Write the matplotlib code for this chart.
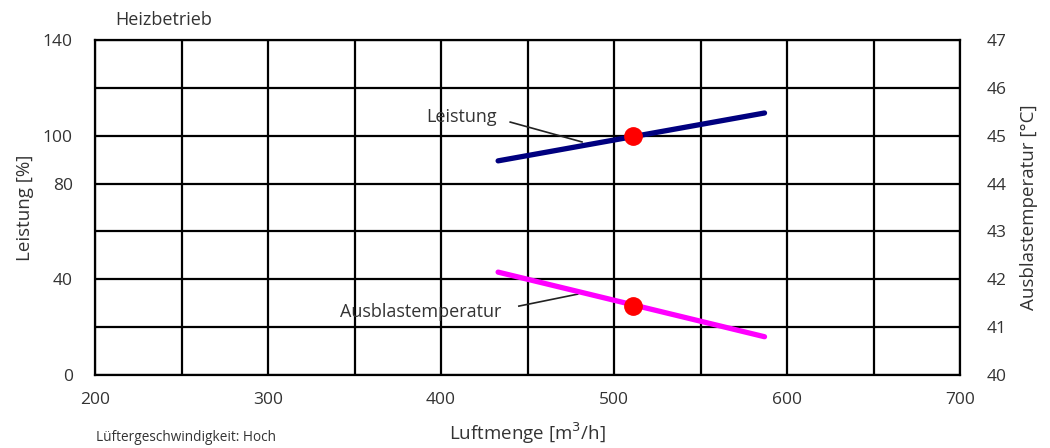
import matplotlib
matplotlib.use("Agg")
import matplotlib.pyplot as plt

plt.rcParams['font.family'] = ['Open Sans', 'DejaVu Sans']

# Data
luftmenge = [433, 587]
leistung = [89.5, 109.5]
temp_x = [433, 587]
ausblastemp = [42.15, 40.8]
nominal_x = [511]
nominal_leistung = [100]
nominal_temp = [41.45]

x_ticks = [200, 300, 400, 500, 600, 700]
left_ticks = [0, 40, 80, 100, 140]
right_ticks = [40, 41, 42, 43, 44, 45, 46, 47]

txt = '#333333'
fig = plt.figure(figsize=(10.5, 4.48), dpi=100)
ax = fig.add_axes([0.0905, 0.1629, 0.8238, 0.7478])
ax.set_xlim(200, 700)
ax.set_ylim(0, 140)
for xv in range(200, 701, 50):
    ax.axvline(xv, color='black', lw=1.6, zorder=1)
for yv in range(0, 141, 20):
    ax.axhline(yv, color='black', lw=1.6, zorder=1)
for s in ax.spines.values():
    s.set_linewidth(1.6)
ax.set_xticks(x_ticks)
ax.set_yticks(left_ticks)
ax.tick_params(axis='x', length=0, labelsize=12.5, labelcolor=txt, pad=12)
ax.tick_params(axis='y', length=0, labelsize=12.5, labelcolor=txt, pad=16)
ax.set_xlabel('Luftmenge [m$^3$/h]', fontsize=13.5, color=txt, labelpad=9)
ax.set_ylabel('Leistung [%]', fontsize=13.5, color=txt, labelpad=6)

ax2 = ax.twinx()
ax2.set_ylim(40, 47)
ax2.set_yticks(right_ticks)
ax2.tick_params(length=0, labelsize=12.5, labelcolor=txt, pad=19)
for lab in ax2.get_yticklabels():
    lab.set_va('center_baseline')
ax2.set_ylabel('Ausblastemperatur [°C]', fontsize=13.5, color=txt, labelpad=10)
for s in ax2.spines.values():
    s.set_visible(False)

ax.plot(luftmenge, leistung, color='#00007f', lw=3.8, solid_capstyle='round', zorder=3)
ax2.plot(temp_x, ausblastemp, color='#ff00ff', lw=3.8, solid_capstyle='round', zorder=3)
ax.plot(nominal_x, nominal_leistung, 'o', color='red', ms=12.5, zorder=5)
ax2.plot(nominal_x, nominal_temp, 'o', color='red', ms=12.5, zorder=5)

ax.text(412, 107.8, 'Leistung', ha='center', va='center', fontsize=13, color=txt, zorder=4)
ax.plot([440, 481.5], [105.7, 97.4], color='#222222', lw=1.2, zorder=2)
ax.text(388.4, 26.3, 'Ausblastemperatur', ha='center', va='center', fontsize=13, color=txt, zorder=4)
ax.plot([445, 479], [28.8, 33.8], color='#222222', lw=1.2, zorder=2)

fig.text(115/1050, 1 - 20/448, 'Heizbetrieb', ha='left', va='center', fontsize=13, color=txt)
fig.text(96/1050, 1 - 437/448, 'Lüftergeschwindigkeit: Hoch', ha='left', va='center', fontsize=9.8, color=txt)

fig.savefig('out.png', dpi=100)
